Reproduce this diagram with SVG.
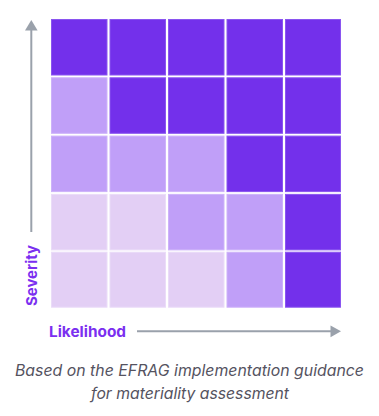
<svg xmlns="http://www.w3.org/2000/svg" width="379" height="416" viewBox="0 0 379 416">
<style>
.c{stroke-width:1}
.d{fill:#7330EB;stroke:#8A55F0}
.m{fill:#C09FF8;stroke:#CDB2FA}
.l{fill:#E3CFF5;stroke:#EADCF8}
.ax{stroke:#9AA1AB;stroke-width:2;fill:none}
.ah{fill:#9AA1AB}
.lab{font-family:Inter,"Liberation Sans",sans-serif;font-weight:700;font-size:15px;fill:#7B2FF0}
.cap{font-family:Inter,"Liberation Sans",sans-serif;font-style:italic;font-size:15.5px;fill:#55535F}
</style>
<rect width="379" height="416" fill="#FFFFFF"/>
<g id="grid">
<g id="row1">
<rect class="c d" x="51.5" y="19.5" width="55.5" height="55.5"/>
<rect class="c d" x="110" y="19.5" width="55.5" height="55.5"/>
<rect class="c d" x="168.5" y="19.5" width="55.5" height="55.5"/>
<rect class="c d" x="227" y="19.5" width="55.5" height="55.5"/>
<rect class="c d" x="285.5" y="19.5" width="55" height="55.5"/>
</g>
<g id="row2">
<rect class="c m" x="51.5" y="77.8" width="55.5" height="55.5"/>
<rect class="c d" x="110" y="77.8" width="55.5" height="55.5"/>
<rect class="c d" x="168.5" y="77.8" width="55.5" height="55.5"/>
<rect class="c d" x="227" y="77.8" width="55.5" height="55.5"/>
<rect class="c d" x="285.5" y="77.8" width="55" height="55.5"/>
</g>
<g id="row3">
<rect class="c m" x="51.5" y="136.1" width="55.5" height="55.5"/>
<rect class="c m" x="110" y="136.1" width="55.5" height="55.5"/>
<rect class="c m" x="168.5" y="136.1" width="55.5" height="55.5"/>
<rect class="c d" x="227" y="136.1" width="55.5" height="55.5"/>
<rect class="c d" x="285.5" y="136.1" width="55" height="55.5"/>
</g>
<g id="row4">
<rect class="c l" x="51.5" y="194.4" width="55.5" height="55.5"/>
<rect class="c l" x="110" y="194.4" width="55.5" height="55.5"/>
<rect class="c m" x="168.5" y="194.4" width="55.5" height="55.5"/>
<rect class="c m" x="227" y="194.4" width="55.5" height="55.5"/>
<rect class="c d" x="285.5" y="194.4" width="55" height="55.5"/>
</g>
<g id="row5">
<rect class="c l" x="51.5" y="252.2" width="55.5" height="55"/>
<rect class="c l" x="110" y="252.2" width="55.5" height="55"/>
<rect class="c l" x="168.5" y="252.2" width="55.5" height="55"/>
<rect class="c m" x="227" y="252.2" width="55.5" height="55"/>
<rect class="c d" x="285.5" y="252.2" width="55" height="55"/>
</g>
</g>
<g id="connectors">
<line class="ax" x1="31.3" y1="29" x2="31.3" y2="232"/>
<polygon class="ah" points="31.3,20 25,30.5 37.6,30.5"/>
<line class="ax" x1="137" y1="331.3" x2="331" y2="331.3"/>
<polygon class="ah" points="341,331.3 330.5,325.5 330.5,337.2"/>
</g>
<g id="severity">
<text class="lab" transform="translate(36.5,306) rotate(-90)" textLength="61" lengthAdjust="spacingAndGlyphs">Severity</text>
</g>
<g id="likelihood">
<text class="lab" x="49" y="336.8" textLength="77" lengthAdjust="spacingAndGlyphs">Likelihood</text>
</g>
<g id="caption">
<text class="cap" x="15" y="375.7" textLength="349" lengthAdjust="spacingAndGlyphs">Based on the EFRAG implementation guidance</text>
<text class="cap" x="91" y="399" textLength="198" lengthAdjust="spacingAndGlyphs">for materiality assessment</text>
</g>
</svg>
